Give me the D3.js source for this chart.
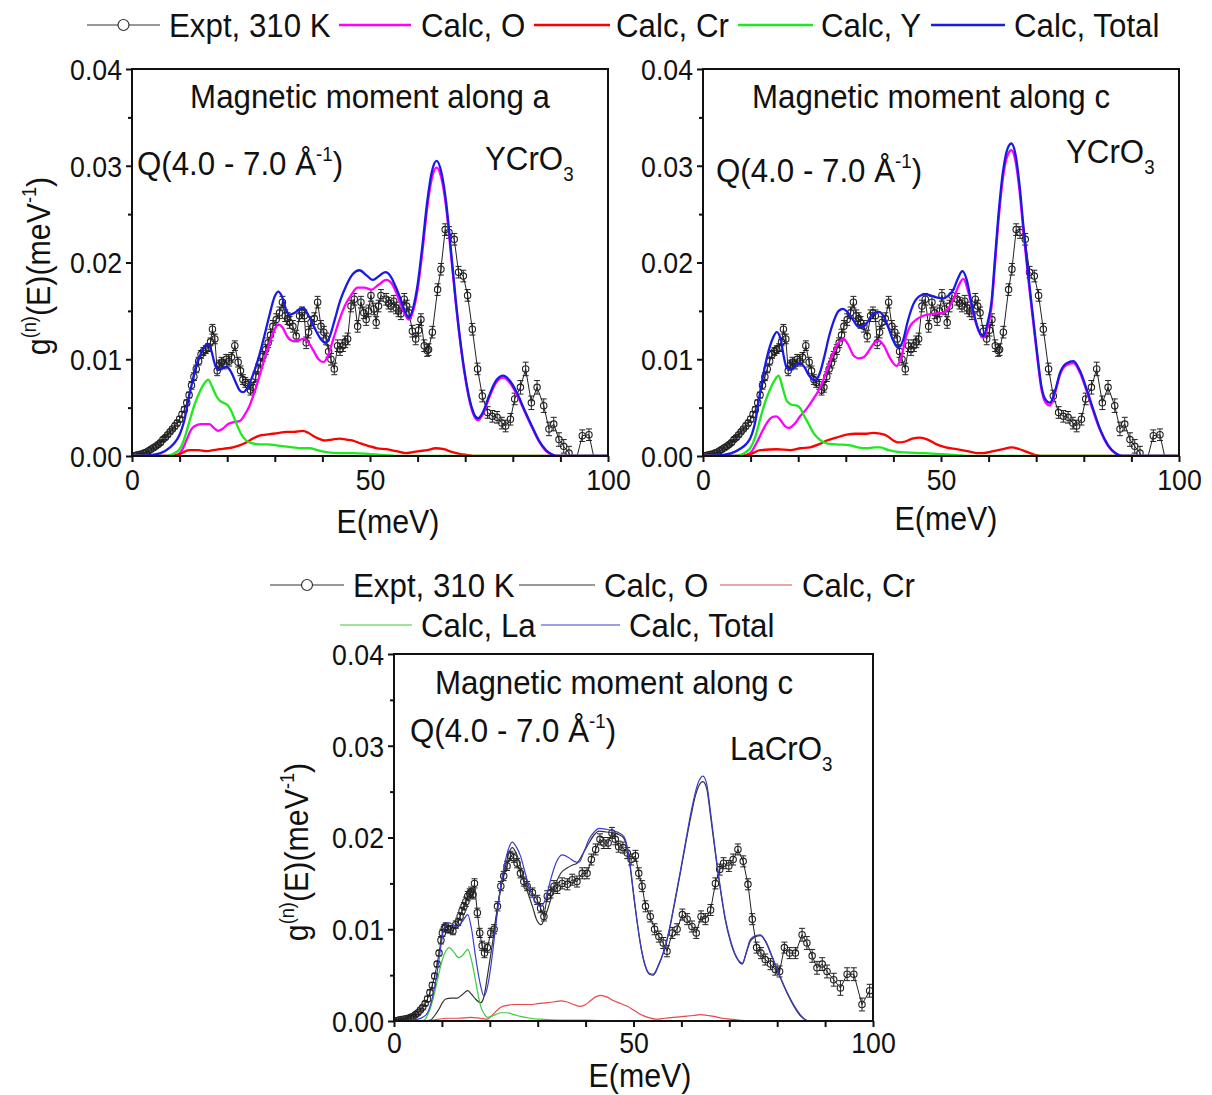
<!DOCTYPE html>
<html><head><meta charset="utf-8">
<script src="https://cdn.jsdelivr.net/npm/d3@7"></script>
<style>html,body{margin:0;padding:0;background:#fff;}svg{display:block;}</style>
</head><body>
<svg id="c" width="1212" height="1095"></svg>
<script>
// ---------------- DATA ----------------
const X_TICKS = [0,10,20,30,40,50,60,70,80,90,100];
const X_LABELS = [0,50,100];
const Y_TICKS = [0,0.01,0.02,0.03,0.04];
const Y_MINOR = [0.005,0.015,0.025,0.035];

const legendTop = ["Expt, 310 K","Calc, O","Calc, Cr","Calc, Y","Calc, Total"];
const legendBot = ["Expt, 310 K","Calc, O","Calc, Cr","Calc, La","Calc, Total"];

// YCrO3 experiment, 310 K  [E, g, err]
const exptY = [
[0,0,0.0001],[0.5,0.00003,0.0001],[1,0.0001,0.0001],[1.5,0.00015,0.0001],[2,0.0002,0.0001],[2.5,0.0003,0.0001],
[3,0.0004,0.0002],[3.5,0.00055,0.0002],[4,0.0007,0.0002],[4.5,0.00085,0.0002],[5,0.001,0.0002],[5.5,0.0012,0.0002],
[6,0.0014,0.0002],[6.5,0.0017,0.0002],[7,0.0019,0.0002],[7.5,0.0022,0.0002],[8,0.0025,0.0002],[8.5,0.0028,0.0002],
[9,0.0031,0.0003],[9.5,0.0034,0.0003],[10,0.0038,0.0003],[10.5,0.0043,0.0003],[11,0.0048,0.0003],[11.5,0.0055,0.0003],
[12,0.0063,0.0003],[12.5,0.0073,0.0004],[13,0.0082,0.0004],[13.5,0.0090,0.0004],[14,0.0098,0.0004],[14.5,0.0105,0.0004],
[15,0.0108,0.0004],[15.5,0.0110,0.0004],[16,0.0112,0.0004],[16.5,0.0118,0.0004],[16.9,0.0131,0.0005],[17.4,0.0121,0.0005],
[17.9,0.0088,0.0005],[18.4,0.0094,0.0005],[18.8,0.0097,0.0005],[19.3,0.0095,0.0005],[19.8,0.0100,0.0005],[20.4,0.0098,0.0005],
[20.9,0.0102,0.0005],[21.6,0.0114,0.0005],[22.3,0.0097,0.0005],[22.8,0.0088,0.0005],[23.3,0.0079,0.0005],[23.8,0.0076,0.0005],
[24.4,0.0074,0.0005],[24.9,0.0068,0.0005],[25.4,0.0071,0.0005],[26.0,0.0082,0.0005],[26.5,0.0090,0.0005],[27.0,0.0096,0.0005],
[27.5,0.0103,0.0005],[28.1,0.0110,0.0005],[28.6,0.0117,0.0005],[29.1,0.0125,0.0006],[29.6,0.0134,0.0006],[30.3,0.0141,0.0006],
[31.0,0.0148,0.0006],[31.6,0.0159,0.0006],[32.2,0.0145,0.0006],[32.7,0.0142,0.0006],[33.1,0.0138,0.0006],[33.8,0.0134,0.0006],
[34.5,0.0124,0.0006],[35.2,0.0145,0.0006],[35.7,0.0148,0.0006],[36.2,0.0145,0.0006],[36.6,0.0117,0.0006],[37.1,0.0128,0.0006],
[37.6,0.0138,0.0006],[38.3,0.0142,0.0006],[39.0,0.0159,0.0006],[39.7,0.0134,0.0006],[40.3,0.0128,0.0006],[40.8,0.0121,0.0006],
[41.3,0.0108,0.0006],[41.8,0.0100,0.0006],[42.5,0.0090,0.0006],[43.2,0.0114,0.0006],[43.7,0.0110,0.0006],[44.3,0.0114,0.0006],
[44.8,0.0118,0.0006],[45.3,0.0121,0.0006],[46.0,0.0155,0.0006],[46.7,0.0162,0.0006],[47.4,0.0134,0.0006],[48.1,0.0159,0.0006],
[48.7,0.0148,0.0006],[49.2,0.0141,0.0006],[49.7,0.0150,0.0006],[50.2,0.0166,0.0006],[50.8,0.0152,0.0006],[51.3,0.0138,0.0006],
[51.8,0.0155,0.0006],[52.3,0.0166,0.0006],[53.4,0.0162,0.0006],[53.9,0.0158,0.0006],[54.4,0.0155,0.0006],[55.0,0.0160,0.0006],
[55.5,0.0153,0.0006],[56.0,0.0150,0.0006],[56.5,0.0147,0.0006],[57.2,0.0162,0.0006],[57.7,0.0155,0.0006],[58.2,0.0148,0.0006],
[58.9,0.0129,0.0006],[59.6,0.0121,0.0006],[60.2,0.0130,0.0006],[60.7,0.0141,0.0006],[61.4,0.0114,0.0006],[62.0,0.0109,0.0006],
[62.3,0.0110,0.0006],[63.1,0.0128,0.0006],[64.2,0.0172,0.0006],[64.9,0.0193,0.0006],[65.8,0.0234,0.0006],[66.6,0.0231,0.0006],
[67.7,0.0224,0.0006],[68.6,0.0190,0.0006],[69.6,0.0186,0.0006],[70.5,0.0166,0.0006],[71.5,0.0131,0.0006],[72.6,0.0090,0.0006],
[73.6,0.0062,0.0006],[74.7,0.0045,0.0006],[75.7,0.0041,0.0006],[76.7,0.0040,0.0006],[77.7,0.0034,0.0006],[78.5,0.0031,0.0006],
[79.5,0.0038,0.0006],[80.4,0.0059,0.0006],[81.6,0.0071,0.0007],[82.7,0.0090,0.0007],[83.9,0.0055,0.0007],[85.1,0.0071,0.0007],
[86.5,0.0052,0.0007],[87.6,0.0028,0.0007],[88.6,0.0033,0.0007],[89.7,0.0017,0.0007],[90.7,0.0010,0.0007],[91.8,0.0003,0.0007],
[92.9,-0.0012,0.0003],[94.6,0.0021,0.0006],[96.0,0.0022,0.0006],[97.5,-0.0012,0.0003]
];

// YCrO3, moment along a
const ya_Total = [[0,0],[4,0.0001],[6,0.0003],[8,0.0009],[9,0.0014],[10,0.0022],[11,0.0037],[12,0.0062],[12.6,0.0075],[13.5,0.0094],[14.3,0.0104],[15.2,0.0113],[15.9,0.0116],[16.6,0.0110],[17.4,0.0095],[18.1,0.0089],[19.0,0.0091],[19.9,0.0092],[20.8,0.0087],[21.8,0.0076],[22.6,0.0068],[23.3,0.0066],[24.2,0.0070],[25.5,0.0085],[26.8,0.0105],[27.8,0.0124],[28.9,0.0146],[29.9,0.0164],[30.7,0.0170],[31.5,0.0165],[32.4,0.0151],[33.2,0.0146],[34.2,0.0148],[35.2,0.0152],[36.0,0.0153],[37.0,0.0146],[38.2,0.0134],[39.5,0.0122],[40.6,0.0117],[41.5,0.0123],[42.6,0.0141],[43.7,0.0160],[45.0,0.0176],[46.4,0.0188],[47.8,0.0192],[49.2,0.0187],[50.6,0.0182],[51.9,0.0186],[53.2,0.0190],[54.3,0.0186],[55.3,0.0176],[56.3,0.0164],[57.3,0.0150],[58.2,0.0143],[59.0,0.0152],[60.0,0.0177],[61.0,0.0217],[62.0,0.0262],[63.0,0.0294],[64.0,0.0305],[65.0,0.0293],[66.0,0.0262],[67.0,0.0213],[68.0,0.0162],[69.0,0.0118],[70.0,0.0083],[71.0,0.0057],[71.9,0.0043],[72.7,0.0039],[73.8,0.0046],[75.0,0.0062],[76.5,0.0078],[78.0,0.0083],[79.5,0.0077],[81.0,0.0064],[82.5,0.0047],[84.0,0.0031],[85.5,0.0016],[87.0,0.0006],[88.5,0.0001],[89.5,0],[100,0]];
const ya_O = [[0,0],[8,0],[9.5,0.0001],[10.5,0.0006],[11.5,0.0017],[12.4,0.0027],[13.2,0.0031],[14.5,0.0033],[15.5,0.0033],[16.3,0.0033],[17.2,0.0029],[18.1,0.0026],[19.0,0.0028],[20.2,0.0033],[21.4,0.0035],[22.6,0.0036],[23.6,0.0042],[24.7,0.0052],[25.8,0.0067],[26.8,0.0083],[27.9,0.0102],[28.9,0.0117],[29.9,0.0130],[30.7,0.0136],[31.6,0.0133],[32.7,0.0123],[33.8,0.0119],[35.0,0.0120],[36.2,0.0121],[37.1,0.0117],[38.0,0.0110],[39.2,0.0100],[40.2,0.0097],[41.2,0.0104],[42.3,0.0121],[43.6,0.0141],[44.8,0.0156],[46.0,0.0166],[47.4,0.0174],[48.8,0.0174],[50.3,0.0172],[51.8,0.0177],[53.4,0.0182],[54.6,0.0178],[55.6,0.0168],[56.6,0.0155],[57.5,0.0145],[58.2,0.0141],[59.0,0.0149],[60.0,0.0172],[61.0,0.0211],[62.0,0.0256],[63.0,0.0287],[64.0,0.0298],[65.0,0.0287],[66.0,0.0257],[67.0,0.0209],[68.0,0.0159],[69.0,0.0116],[70.0,0.0081],[71.0,0.0055],[71.9,0.0041],[72.7,0.0037],[73.8,0.0044],[75.0,0.0060],[76.5,0.0076],[78.0,0.0081],[79.5,0.0075],[81.0,0.0062],[82.5,0.0046],[84.0,0.0030],[85.5,0.0015],[87.0,0.0005],[88.5,0.0001],[89.5,0],[100,0]];
const ya_Cr = [[0,0],[8,0],[10,0.0002],[12,0.0006],[14,0.0006],[15.6,0.0005],[17,0.0006],[18.4,0.0007],[20,0.0008],[21.2,0.0009],[22.6,0.0011],[24,0.0014],[25.4,0.0018],[26.8,0.0021],[28.2,0.0022],[29.6,0.0023],[31,0.0024],[32.4,0.0025],[34,0.0025],[35.9,0.0026],[37,0.0024],[38,0.0021],[39.2,0.0018],[40.4,0.0016],[42,0.0017],[43.6,0.0018],[45,0.0017],[46.4,0.0016],[48,0.0013],[49.9,0.0010],[51.5,0.0008],[53.4,0.0007],[55.5,0.0005],[57.5,0.0003],[59,0.0004],[60.3,0.0005],[62,0.0006],[63.8,0.0008],[65.5,0.0007],[67.3,0.0004],[69,0.0002],[70.5,0.0001],[72,0],[100,0]];
const ya_Y = [[0,0],[7,0],[8,0.0001],[9,0.0003],[10,0.0007],[11,0.0018],[12.2,0.0038],[13.2,0.0054],[14.2,0.0066],[15.2,0.0075],[16,0.0079],[16.8,0.0072],[17.7,0.0062],[18.5,0.0057],[19.2,0.0055],[20.2,0.0052],[21,0.0045],[21.9,0.0034],[22.9,0.0023],[24,0.0016],[25.4,0.0013],[26.8,0.0012],[28.5,0.0012],[30.3,0.0011],[32,0.0010],[33.8,0.0009],[35.5,0.0008],[37.3,0.0008],[39,0.0006],[40.8,0.0004],[43.5,0.0003],[46.4,0.0003],[50,0.0002],[53.4,0.0001],[56,0],[100,0]];

// YCrO3, moment along c
const yc_Total = [[0,0],[4,0.0001],[6,0.0003],[8,0.0008],[9,0.0012],[9.9,0.0018],[11,0.0036],[12,0.0066],[12.9,0.0090],[13.8,0.0109],[14.7,0.0122],[15.5,0.0128],[16.3,0.0121],[17,0.0102],[17.6,0.0091],[18.5,0.0089],[19.5,0.0094],[20.4,0.0096],[21.3,0.0092],[22.3,0.0083],[23.4,0.0078],[24.5,0.0085],[25.5,0.0103],[26.5,0.0124],[27.5,0.0140],[28.5,0.0150],[29.4,0.0152],[30.3,0.0149],[31.5,0.0141],[32.5,0.0134],[33.4,0.0133],[34.5,0.0138],[35.7,0.0147],[36.9,0.0149],[38.0,0.0144],[39.0,0.0132],[40.0,0.0119],[41.0,0.0112],[42.0,0.0119],[43.0,0.0139],[44.2,0.0157],[45.4,0.0165],[46.6,0.0167],[47.8,0.0166],[49.0,0.0164],[50.5,0.0163],[51.6,0.0166],[52.6,0.0172],[53.6,0.0184],[54.5,0.0191],[55.4,0.0182],[56.2,0.0163],[57.0,0.0145],[57.9,0.0130],[58.9,0.0124],[59.8,0.0138],[60.6,0.0159],[61.4,0.0208],[62.0,0.0245],[63.0,0.0293],[64.0,0.0318],[64.8,0.0323],[65.6,0.0313],[66.5,0.0280],[67.3,0.0238],[68.3,0.0189],[69.4,0.0141],[70.3,0.0102],[71.1,0.0072],[72.0,0.0058],[72.9,0.0055],[74.0,0.0068],[75.0,0.0086],[76.4,0.0096],[77.8,0.0098],[79.2,0.0088],[80.6,0.0069],[82.0,0.0048],[83.4,0.0028],[85.0,0.0012],[86.9,0.0002],[88,0],[100,0]];
const yc_O = [[0,0],[8,0],[9.9,0.0003],[11.3,0.0014],[12.4,0.0025],[13.4,0.0034],[14.5,0.0040],[15.4,0.0041],[16.3,0.0037],[17.2,0.0031],[18,0.0029],[19.2,0.0033],[20.4,0.0041],[21.8,0.0049],[23.2,0.0059],[24.3,0.0068],[25.3,0.0079],[26.4,0.0094],[27.4,0.0107],[28.5,0.0117],[29.5,0.0121],[30.5,0.0115],[31.6,0.0104],[32.6,0.0101],[33.7,0.0102],[35.0,0.0110],[36.0,0.0117],[37.0,0.0119],[38.0,0.0114],[39.3,0.0101],[40.7,0.0093],[41.8,0.0105],[42.7,0.0124],[43.5,0.0134],[44.8,0.0141],[46.3,0.0145],[48.3,0.0147],[50.5,0.0148],[51.6,0.0153],[52.6,0.0162],[53.7,0.0176],[54.7,0.0183],[55.6,0.0172],[56.5,0.0154],[57.5,0.0135],[58.9,0.0122],[59.8,0.0133],[60.6,0.0154],[61.4,0.0202],[62.0,0.0239],[63.0,0.0287],[64.0,0.0311],[64.8,0.0316],[65.6,0.0306],[66.5,0.0274],[67.3,0.0233],[68.3,0.0185],[69.4,0.0137],[70.3,0.0099],[71.1,0.0069],[72.0,0.0055],[72.9,0.0052],[74.0,0.0066],[75.0,0.0084],[76.4,0.0094],[77.8,0.0096],[79.2,0.0086],[80.6,0.0067],[82.0,0.0046],[83.4,0.0027],[85.0,0.0011],[86.9,0.0002],[88,0],[100,0]];
const yc_Cr = [[0,0],[8,0],[10,0.0002],[12,0.0006],[15.5,0.0007],[18.3,0.0006],[20.5,0.0008],[22.5,0.0009],[24.3,0.0012],[26,0.0016],[28,0.0019],[30.2,0.0022],[32,0.0023],[34,0.0023],[35.8,0.0024],[37.2,0.0023],[38.6,0.0021],[40,0.0016],[41,0.0014],[42.5,0.0015],[44,0.0018],[45.6,0.0019],[47.2,0.0017],[49.1,0.0012],[51,0.0009],[53.3,0.0007],[55.5,0.0005],[57.5,0.0003],[58.9,0.0003],[61,0.0005],[63,0.0007],[64.8,0.0009],[66.5,0.0007],[68.7,0.0003],[70,0.0001],[71.5,0],[100,0]];
const yc_Y = [[0,0],[7,0],[7.8,0.0001],[9,0.0004],[9.9,0.0008],[11,0.0020],[12,0.0038],[13,0.0055],[14.1,0.0069],[15,0.0078],[15.9,0.0083],[16.7,0.0071],[17.6,0.0057],[18.6,0.0053],[19.7,0.0052],[20.5,0.0049],[21.1,0.0043],[22.2,0.0033],[23.2,0.0024],[24.5,0.0017],[26,0.0013],[28,0.0012],[30.9,0.0011],[32.5,0.0009],[34.4,0.0008],[36,0.0009],[37.2,0.0009],[39,0.0006],[41.4,0.0004],[46.3,0.0003],[50,0.0002],[53.3,0.0001],[56,0],[100,0]];

// LaCrO3 experiment, 310 K  [E, g, err]
const exptLa = [
[0,0,0.0001],[0.5,0.00003,0.0001],[1,0.0001,0.0001],[1.5,0.00015,0.0001],[2,0.0002,0.0001],[2.5,0.00025,0.0001],
[3,0.0003,0.0002],[3.5,0.0004,0.0002],[4,0.0005,0.0002],[4.5,0.0007,0.0002],[5,0.0009,0.0002],[5.5,0.0012,0.0002],
[6,0.0015,0.0002],[6.5,0.0019,0.0002],[7,0.0024,0.0003],[7.5,0.0031,0.0003],[8,0.0039,0.0003],[8.5,0.0049,0.0003],
[9,0.0062,0.0003],[9.4,0.0074,0.0003],[9.8,0.0088,0.0004],[10.1,0.0096,0.0004],[10.5,0.0101,0.0004],[10.8,0.0103,0.0004],
[11.3,0.0100,0.0004],[11.8,0.0100,0.0004],[12.3,0.0098,0.0004],[12.9,0.0105,0.0004],[13.4,0.0108,0.0004],[13.8,0.0114,0.0004],
[14.2,0.0120,0.0004],[14.6,0.0125,0.0004],[15.0,0.0130,0.0005],[15.4,0.0136,0.0005],[15.8,0.0139,0.0005],[16.1,0.0141,0.0005],
[16.5,0.0138,0.0005],[16.8,0.0150,0.0005],[17.4,0.0118,0.0005],[17.9,0.0096,0.0005],[18.4,0.0082,0.0005],[18.9,0.0074,0.0005],
[19.5,0.0080,0.0005],[20.2,0.0096,0.0005],[20.9,0.0100,0.0005],[21.6,0.0125,0.0005],[22.3,0.0147,0.0005],[22.9,0.0158,0.0005],
[23.6,0.0169,0.0005],[24.3,0.0180,0.0005],[25.0,0.0178,0.0005],[25.7,0.0172,0.0005],[26.4,0.0161,0.0005],[27.1,0.0152,0.0005],
[27.8,0.0147,0.0005],[28.9,0.0140,0.0005],[29.9,0.0132,0.0005],[30.6,0.0123,0.0005],[31.3,0.0114,0.0005],[32.0,0.0136,0.0006],
[32.7,0.0140,0.0006],[33.4,0.0147,0.0006],[34.1,0.0145,0.0006],[35.1,0.0150,0.0006],[36.2,0.0149,0.0006],[37.2,0.0154,0.0006],
[38.2,0.0152,0.0006],[39.3,0.0161,0.0006],[40.3,0.0161,0.0006],[41.2,0.0176,0.0006],[42.1,0.0187,0.0006],[43.0,0.0198,0.0006],
[43.8,0.0194,0.0006],[44.7,0.0194,0.0006],[45.5,0.0205,0.0006],[46.2,0.0198,0.0006],[46.9,0.0190,0.0006],[47.8,0.0189,0.0006],
[48.7,0.0183,0.0006],[49.5,0.0176,0.0006],[50.4,0.0180,0.0006],[51.1,0.0161,0.0006],[51.8,0.0147,0.0006],[52.5,0.0125,0.0006],
[53.5,0.0114,0.0006],[54.4,0.0100,0.0006],[55.3,0.0092,0.0006],[56.2,0.0085,0.0006],[57.0,0.0076,0.0006],[58.1,0.0096,0.0006],
[59.1,0.0100,0.0006],[60.2,0.0116,0.0006],[61.2,0.0111,0.0006],[62.2,0.0103,0.0006],[63.1,0.0096,0.0006],[64.1,0.0114,0.0006],
[65.0,0.0111,0.0006],[66.1,0.0121,0.0006],[67.1,0.0150,0.0006],[68.0,0.0165,0.0006],[68.8,0.0172,0.0006],[69.9,0.0169,0.0006],
[70.8,0.0176,0.0006],[71.8,0.0187,0.0006],[72.9,0.0174,0.0006],[73.9,0.0149,0.0006],[74.8,0.0111,0.0006],[75.7,0.0080,0.0006],
[76.6,0.0074,0.0006],[77.5,0.0067,0.0006],[78.6,0.0062,0.0006],[79.6,0.0056,0.0006],[80.5,0.0054,0.0006],[81.5,0.0080,0.0006],
[82.6,0.0074,0.0006],[83.8,0.0074,0.0006],[85.2,0.0094,0.0007],[86.2,0.0085,0.0007],[87.3,0.0071,0.0007],[88.3,0.0058,0.0007],
[89.4,0.0062,0.0007],[90.4,0.0054,0.0007],[91.8,0.0045,0.0007],[93.2,0.0036,0.0008],[94.6,0.0051,0.0007],[96.0,0.0051,0.0007],
[97.7,0.0018,0.0007],[99.3,0.0033,0.0007]
];

// LaCrO3, moment along c
const la_Total = [[0,0],[3,0.0001],[5,0.0002],[6,0.0004],[7,0.0009],[8,0.0025],[9,0.0053],[9.8,0.0082],[10.4,0.0100],[11.5,0.0107],[12.3,0.0105],[13.2,0.0103],[14.2,0.0108],[15.4,0.0116],[16.2,0.0100],[17,0.0071],[17.9,0.0043],[18.8,0.0027],[19.7,0.0042],[20.5,0.0071],[21.2,0.0102],[21.9,0.0132],[22.6,0.0157],[23.3,0.0176],[24.0,0.0189],[24.7,0.0195],[25.5,0.0190],[26.4,0.0180],[27.4,0.0161],[28.5,0.0141],[29.6,0.0129],[30.7,0.0125],[31.7,0.0134],[32.7,0.0154],[33.8,0.0172],[35.1,0.0181],[36.5,0.0178],[37.6,0.0174],[38.6,0.0173],[39.7,0.0185],[40.7,0.0198],[41.8,0.0206],[42.8,0.0210],[44.3,0.0209],[45.9,0.0207],[47.0,0.0205],[48.0,0.0201],[48.6,0.0192],[49.3,0.0170],[50.0,0.0140],[50.8,0.0107],[51.6,0.0080],[52.5,0.0060],[53.3,0.0052],[54.1,0.0051],[55.2,0.0061],[56.3,0.0076],[57.4,0.0098],[58.4,0.0125],[59.8,0.0164],[61.2,0.0205],[62.1,0.0230],[62.9,0.0249],[63.7,0.0262],[64.5,0.0267],[65.3,0.0258],[66.1,0.0227],[67.1,0.0185],[68.2,0.0143],[69.2,0.0111],[70.2,0.0089],[71.4,0.0071],[72.7,0.0063],[73.6,0.0076],[74.4,0.0089],[75.5,0.0093],[76.5,0.0094],[77.7,0.0086],[78.9,0.0071],[80.5,0.0050],[82.1,0.0031],[83.5,0.0017],[84.8,0.0007],[86.0,0.0001],[86.6,0],[100,0]];
const la_O = [[0,0],[6,0],[7.6,0.0001],[8.5,0.0006],[9.4,0.0013],[10.1,0.0020],[10.8,0.0024],[12,0.0025],[13.2,0.0025],[14.3,0.0029],[15.4,0.0033],[16.2,0.0029],[17,0.0024],[18.1,0.0020],[18.8,0.0027],[19.5,0.0049],[20.3,0.0076],[21.2,0.0107],[22.2,0.0142],[23.3,0.0169],[24.0,0.0183],[24.7,0.0189],[25.5,0.0183],[26.4,0.0169],[27.5,0.0147],[28.9,0.0125],[29.8,0.0110],[30.7,0.0105],[31.7,0.0116],[32.7,0.0132],[33.8,0.0150],[34.8,0.0161],[36.2,0.0167],[37.3,0.0170],[38.2,0.0172],[39.5,0.0183],[40.7,0.0194],[41.8,0.0203],[42.8,0.0207],[44.3,0.0206],[45.9,0.0205],[47.0,0.0203],[48.0,0.0199],[48.6,0.0190],[49.3,0.0168],[50.0,0.0138],[50.8,0.0106],[51.6,0.0079],[52.5,0.0059],[53.3,0.0051],[54.1,0.0050],[55.2,0.0060],[56.3,0.0075],[57.4,0.0097],[58.4,0.0123],[59.8,0.0162],[61.2,0.0202],[62.1,0.0226],[62.9,0.0245],[63.7,0.0257],[64.5,0.0261],[65.3,0.0253],[66.1,0.0223],[67.1,0.0182],[68.2,0.0141],[69.2,0.0109],[70.2,0.0087],[71.4,0.0070],[72.7,0.0062],[73.6,0.0075],[74.4,0.0087],[75.5,0.0092],[76.5,0.0093],[77.7,0.0085],[78.9,0.0070],[80.5,0.0049],[82.1,0.0030],[83.5,0.0016],[84.8,0.0006],[86.0,0.0001],[86.6,0],[100,0]];
const la_Cr = [[0,0],[6,0],[8,0.0001],[11.1,0.0003],[13.5,0.0003],[16,0.0004],[18,0.0003],[19.5,0.0002],[20.8,0.0008],[22.3,0.0015],[23.6,0.0017],[25,0.0018],[27,0.0018],[28.5,0.0018],[30,0.0019],[32,0.0020],[33.5,0.0021],[34.8,0.0022],[36,0.0021],[37.5,0.0018],[38.9,0.0016],[40,0.0018],[41,0.0022],[42,0.0026],[43.1,0.0028],[44.5,0.0026],[45.9,0.0022],[47.3,0.0019],[48.7,0.0016],[50,0.0012],[51.5,0.0007],[53,0.0004],[54.9,0.0002],[56.5,0.0003],[58.4,0.0004],[60.5,0.0005],[62.5,0.0006],[64,0.0007],[65.5,0.0006],[66.8,0.0005],[68.5,0.0003],[70.2,0.0002],[72,0.0001],[74,0],[100,0]];
const la_La = [[0,0],[5,0],[6.3,0.0001],[7.3,0.0010],[8.3,0.0027],[9.2,0.0048],[10.1,0.0067],[10.8,0.0076],[11.5,0.0080],[12.5,0.0075],[13.5,0.0069],[14.4,0.0072],[15.4,0.0078],[16.1,0.0068],[16.7,0.0053],[17.4,0.0033],[18.1,0.0016],[18.8,0.0008],[19.5,0.0004],[20.3,0.0005],[21.2,0.0007],[22.4,0.0009],[23.6,0.0009],[25,0.0007],[26.4,0.0005],[28.5,0.0003],[30.6,0.0002],[35,0.0001],[40,0.0001],[45,0],[100,0]];

// ---------------- DRAWING ----------------
const FONT = "'Liberation Sans', Arial, Helvetica, sans-serif";
const SX = 0.92;          // slight horizontal condensing, as in the reference
const svg = d3.select("#c");
const INK = "#111";

const topColors = {O:"#ff00ff", Cr:"#ff0000", X:"#1ee81e", Total:"#1a1ae6"};
const botColors = {O:"#333333", Cr:"#e8474c", X:"#3ccc3c", Total:"#3a3ad0"};

function rich(g, x, y, parts, size, anchor, rot) {
  const tf = `translate(${x},${y})` + (rot ? ` rotate(${rot})` : "") + ` scale(${SX},1)`;
  const t = g.append("text").attr("font-family", FONT).attr("font-size", size).attr("fill", INK)
    .attr("text-anchor", anchor || "start").attr("transform", tf);
  parts.forEach(p => {
    const ts = t.append("tspan").text(p.t);
    if (p.sup) ts.attr("dy", -size*0.42).attr("font-size", size*0.6);
    else if (p.sub) ts.attr("dy", size*0.32).attr("font-size", size*0.6);
    else if (p.back) ts.attr("dy", p.back);
  });
  return t;
}

function panel(cfg) {
  const x = d3.scaleLinear().domain([0,100]).range([cfg.x0, cfg.x1]);
  const y = d3.scaleLinear().domain([0,0.04]).range([cfg.yb, cfg.yt]);
  const g = svg.append("g");
  const clipId = "clip" + cfg.id;
  svg.append("clipPath").attr("id", clipId).append("rect")
    .attr("x", cfg.x0).attr("y", cfg.yt).attr("width", cfg.x1-cfg.x0).attr("height", cfg.yb-cfg.yt);

  // Experimental
  const eg = g.append("g").attr("clip-path", `url(#${clipId})`);
  const line = d3.line().x(d => x(d[0])).y(d => y(d[1]));
  eg.append("path").datum(cfg.expt).attr("d", line).attr("fill","none").attr("stroke","#222").attr("stroke-width",1);
  const pts = eg.selectAll("g.pt").data(cfg.expt).join("g").attr("class","pt");
  pts.append("line").attr("x1", d=>x(d[0])).attr("x2", d=>x(d[0]))
    .attr("y1", d=>y(d[1]-d[2])).attr("y2", d=>y(d[1]+d[2])).attr("stroke","#222").attr("stroke-width",1);
  pts.append("line").attr("x1", d=>x(d[0])-3).attr("x2", d=>x(d[0])+3)
    .attr("y1", d=>y(d[1]+d[2])).attr("y2", d=>y(d[1]+d[2])).attr("stroke","#222").attr("stroke-width",1);
  pts.append("line").attr("x1", d=>x(d[0])-3).attr("x2", d=>x(d[0])+3)
    .attr("y1", d=>y(d[1]-d[2])).attr("y2", d=>y(d[1]-d[2])).attr("stroke","#222").attr("stroke-width",1);
  pts.append("circle").attr("cx", d=>x(d[0])).attr("cy", d=>y(d[1])).attr("r", 3.2)
    .attr("fill", "none").attr("stroke","#222").attr("stroke-width",1.1);

  // Calculated curves
  const cl = d3.line().x(d => x(d[0])).y(d => y(d[1])).curve(d3.curveMonotoneX);
  const cg = g.append("g").attr("clip-path", `url(#${clipId})`);
  cfg.curves.forEach(c => {
    cg.append("path").datum(c.data).attr("d", cl).attr("fill","none")
      .attr("stroke", c.color).attr("stroke-width", cfg.lw).attr("stroke-linejoin","round");
  });

  // Axes
  const ax = g.append("g");
  const xa = d3.axisBottom(x).tickValues(X_TICKS).tickSize(6).tickSizeOuter(0)
    .tickFormat(d => X_LABELS.includes(d) ? d : "");
  const xg = ax.append("g").attr("transform", `translate(0,${cfg.yb})`).call(xa);
  xg.selectAll("text").attr("font-family", FONT).attr("font-size", 29).attr("fill", INK)
    .attr("dy", null).attr("y", null).attr("transform", `translate(0,${cfg.xlab}) scale(${SX},1)`);
  const ya = d3.axisLeft(y).tickValues(Y_TICKS).tickSize(6).tickSizeOuter(0).tickFormat(d3.format(".2f"));
  const yg = ax.append("g").attr("transform", `translate(${cfg.x0},0)`).call(ya);
  yg.selectAll("text").attr("font-family", FONT).attr("font-size", 29).attr("fill", INK)
    .attr("x", null).attr("dy", "0.36em").attr("transform", `translate(-10,0) scale(${SX},1)`);
  const ym = d3.axisLeft(y).tickValues(Y_MINOR).tickSize(4).tickSizeOuter(0).tickFormat("");
  const ymg = ax.append("g").attr("transform", `translate(${cfg.x0},0)`).call(ym);
  [xg, yg, ymg].forEach(s => { s.selectAll("path").remove(); s.selectAll("line").attr("stroke", INK).attr("stroke-width", 2); });
  ax.append("rect").attr("x", cfg.x0).attr("y", cfg.yt).attr("width", cfg.x1-cfg.x0).attr("height", cfg.yb-cfg.yt)
    .attr("fill","none").attr("stroke", INK).attr("stroke-width", 2);

  // Titles
  rich(g, cfg.xtX, cfg.xtY, [{t:"E(meV)"}], 33, "middle");
  if (cfg.ytX) {
    rich(g, cfg.ytX, cfg.ytY, [{t:"g"},{t:"(n)",sup:true},{t:"(E)(meV",back:33*0.42},{t:"-1",sup:true},{t:")",back:33*0.42}],
      33, "middle", -90);
  }
  rich(g, cfg.mX, cfg.mY, [{t:cfg.mText}], 34, "middle");
  rich(g, cfg.qX, cfg.qY, [{t:"Q(4.0 - 7.0 Å"},{t:"-1",sup:true},{t:")",back:34*0.42}], 34, "start");
  rich(g, cfg.cX, cfg.cY, [{t:cfg.comp},{t:"3",sub:true}], 34, "start");
}

panel({id:1, x0:132, x1:608, yt:69, yb:456, expt:exptY, lw:2.3, xlab:34,
  curves:[{data:ya_O,color:topColors.O},{data:ya_Cr,color:topColors.Cr},{data:ya_Y,color:topColors.X},{data:ya_Total,color:topColors.Total}],
  xtX:388, xtY:533, ytX:50, ytY:266, mText:"Magnetic moment along a", mX:370, mY:108, qX:137, qY:175, comp:"YCrO", cX:485, cY:170});
panel({id:2, x0:703, x1:1179, yt:69, yb:456, expt:exptY, lw:2.3, xlab:34,
  curves:[{data:yc_O,color:topColors.O},{data:yc_Cr,color:topColors.Cr},{data:yc_Y,color:topColors.X},{data:yc_Total,color:topColors.Total}],
  xtX:946, xtY:530, mText:"Magnetic moment along c", mX:931, mY:108, qX:716, qY:182, comp:"YCrO", cX:1066, cY:163});
panel({id:3, x0:394, x1:873, yt:654, yb:1021, expt:exptLa, lw:1.2, xlab:32,
  curves:[{data:la_O,color:botColors.O},{data:la_Cr,color:botColors.Cr},{data:la_La,color:botColors.X},{data:la_Total,color:botColors.Total}],
  xtX:640, xtY:1087, ytX:308, ytY:852, mText:"Magnetic moment along c", mX:614, mY:694, qX:410, qY:742, comp:"LaCrO", cX:730, cY:760});

// Legends
function legendItem(lx0, lx1, ly, tx, ty, label, color, lw, marker) {
  const g = svg.append("g");
  g.append("line").attr("x1", lx0).attr("x2", lx1).attr("y1", ly).attr("y2", ly)
    .attr("stroke", color).attr("stroke-width", lw);
  if (marker) g.append("circle").attr("cx", (lx0+lx1)/2).attr("cy", ly).attr("r", 5.5)
    .attr("fill","#fff").attr("stroke","#333").attr("stroke-width",1.2);
  rich(g, tx, ty, [{t:label}], 34, "start");
}
const tColors = ["#333", topColors.O, topColors.Cr, topColors.X, topColors.Total];
const tPos = [[87,160,169],[339,411,421],[534,610,616],[738,813,821],[931,1005,1014]];
legendTop.forEach((lab,i) => legendItem(tPos[i][0], tPos[i][1], 25, tPos[i][2], 37, lab, tColors[i], i===0?1.2:2.3, i===0));

const bColors = ["#333", botColors.O, botColors.Cr, botColors.X, botColors.Total];
const bPos = [[270,344,353,585,597],[519,595,604,585,597],[720,792,802,585,597],[340,412,421,625,637],[541,620,629,625,637]];
legendBot.forEach((lab,i) => legendItem(bPos[i][0], bPos[i][1], bPos[i][3], bPos[i][2], bPos[i][4], lab, bColors[i], 1.2, i===0));
</script>
</body></html>
